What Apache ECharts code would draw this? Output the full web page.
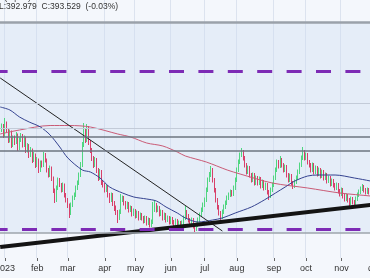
<!DOCTYPE html>
<html><head><meta charset="utf-8">
<script src="https://cdn.jsdelivr.net/npm/echarts/dist/echarts.min.js"></script>
<style>html,body{margin:0;padding:0;background:#f4f7fc;overflow:hidden}#c{width:370px;height:278px}</style>
</head><body><div id="c"></div><script>
// ---- categories (trading days) ----
const startDay = '2022-12-28', endDay = '2023-12-01';
const holidays = ['2023-01-02','2023-01-16','2023-02-20','2023-04-07','2023-05-29','2023-06-19','2023-07-04','2023-09-04','2023-11-23'];
const monthLabels = ['2023','feb','mar','apr','may','jun','jul','aug','sep','oct','nov','dec'];
const days = [];
for (let t = Date.parse(startDay + 'T00:00:00Z'); t <= Date.parse(endDay + 'T00:00:00Z'); t += 86400000) {
  const d = new Date(t), wd = d.getUTCDay(), s = d.toISOString().slice(0, 10);
  if (wd === 0 || wd === 6 || holidays.includes(s)) continue;
  days.push(s);
}
// ---- daily candles [open, close, low, high] from 2022-12-28 ----
const candles = [
[406.4,406.0,405.5,406.9],[406.0,406.8,405.6,407.3],[406.8,405.0,404.4,407.2],
[405.0,407.2,404.6,408.4],[407.2,406.0,405.5,407.7],[406.0,404.0,403.4,406.4],[404.0,405.6,403.5,406.1],[405.6,403.0,402.4,405.9],
[403.0,404.4,402.6,404.9],[404.4,403.6,403.0,404.9],[403.6,405.0,403.2,405.6],[405.0,402.4,401.8,405.3],[402.4,404.0,402.0,404.5],
[404.0,404.8,403.6,405.4],[404.8,403.0,402.5,405.2],[403.0,404.4,402.6,404.9],[404.4,402.0,401.4,404.7],[402.0,402.8,401.5,403.4],
[402.8,401.0,400.4,403.2],[401.0,402.0,400.6,402.6],[402.0,400.0,399.4,402.3],[400.0,401.0,399.6,401.6],[401.0,399.0,398.4,401.3],
[399.0,400.0,398.6,400.6],[400.0,398.0,397.4,400.3],[398.0,399.4,397.6,399.9],[399.4,399.0,398.5,399.9],[399.0,401.0,398.6,401.6],
[401.0,400.0,399.5,401.4],[400.0,398.0,397.5,400.3],[398.0,397.0,396.5,398.4],[397.0,398.4,396.6,398.9],[398.4,396.4,395.8,398.7],
[396.4,394.0,393.4,396.7],[394.0,392.0,391.4,394.3],[392.0,394.4,391.6,394.9],[394.4,396.0,394.0,396.5],[396.0,395.0,394.6,396.4],
[395.0,394.0,393.5,395.4],[394.0,395.0,393.6,395.5],[395.0,393.0,392.5,395.3],[393.0,392.0,391.5,393.4],[392.0,391.0,390.4,392.4],
[391.0,389.4,388.4,391.3],[389.4,391.0,389.0,391.5],[391.0,392.4,390.6,392.9],[392.4,393.0,392.0,393.5],[393.0,394.4,392.6,394.9],
[394.4,395.4,394.0,395.9],[395.4,397.0,395.0,397.5],[397.0,399.0,396.6,399.6],[399.0,403.0,398.6,403.6],[403.0,405.6,402.6,407.4],
[405.6,404.0,403.4,406.2],[404.0,406.4,403.6,407.2],[406.4,403.6,403.0,406.8],[403.6,402.0,401.4,404.0],[402.0,400.4,399.8,402.4],
[400.4,399.0,398.4,400.8],[399.0,400.0,398.6,400.6],[400.0,398.0,397.4,400.4],[398.0,396.4,395.8,398.4],[396.4,397.6,396.0,398.2],
[397.6,395.6,395.0,398.0],[395.6,395.0,394.5,396.0],[395.0,394.0,393.5,395.4],[394.0,394.6,393.6,395.1],[394.6,393.0,392.5,395.0],
[393.0,392.0,391.4,393.4],[392.0,393.0,391.6,393.5],[393.0,391.4,390.8,393.4],[391.4,390.4,389.8,391.8],[390.4,389.6,389.0,390.9],
[389.6,388.4,387.4,390.0],[388.4,389.6,388.0,390.1],[389.6,392.0,389.2,393.2],[392.0,392.4,391.6,392.9],[392.4,391.4,390.9,392.8],
[391.4,390.6,390.1,391.8],[390.6,391.2,390.2,391.7],[391.2,390.0,389.5,391.6],[390.0,390.4,389.6,390.9],[390.4,389.2,388.7,390.8],
[389.2,389.8,388.8,390.3],[389.8,388.8,388.3,390.2],[388.8,389.4,388.4,389.9],[389.4,388.4,387.9,389.8],[388.4,389.0,388.0,389.5],
[389.0,388.4,387.9,389.4],[388.4,387.8,387.3,388.8],[387.8,388.4,387.4,388.9],[388.4,387.4,386.9,388.8],[387.4,388.0,387.0,388.5],
[388.0,387.0,386.5,388.4],[387.0,387.6,386.6,388.1],[387.6,390.0,387.2,391.6],[390.0,391.0,389.6,392.0],[391.0,390.0,389.5,391.4],
[390.0,390.4,389.6,390.9],[390.4,389.2,388.7,390.8],[389.2,389.6,388.8,390.1],[389.6,388.4,387.9,390.0],[388.4,389.0,388.0,389.5],
[389.0,388.0,387.5,389.4],[388.0,388.4,387.6,388.9],[388.4,387.6,387.1,388.8],[387.6,388.2,387.2,388.7],[388.2,387.6,387.1,388.6],
[387.6,387.0,386.5,388.0],[387.0,387.8,386.6,388.3],[387.8,386.8,386.3,388.2],[386.8,387.4,386.4,387.9],[387.4,386.6,385.8,387.8],
[386.6,387.4,386.2,387.9],[387.4,388.4,387.0,388.9],[388.4,389.6,388.0,390.8],[389.6,388.8,388.3,390.0],[388.8,388.0,387.5,389.2],
[388.0,387.2,386.7,388.4],[387.2,388.0,386.8,388.5],[388.0,386.8,386.3,388.4],[386.8,386.2,385.6,387.2],[386.2,387.0,385.8,387.5],
[387.0,388.0,386.6,388.5],[388.0,389.0,387.6,389.5],[389.0,390.0,388.6,390.5],[390.0,391.0,389.6,391.5],[391.0,392.0,390.6,392.5],
[392.0,394.0,391.6,394.5],[394.0,396.0,393.6,396.5],[396.0,397.0,395.6,397.6],[397.0,398.0,396.6,398.8],[398.0,396.0,395.5,398.4],
[396.0,394.0,393.5,396.4],[394.0,392.0,391.5,394.4],[392.0,390.6,390.1,392.4],[390.6,389.4,388.9,391.0],[389.4,388.6,388.0,389.8],
[388.6,389.6,388.2,390.1],[389.6,390.6,389.2,391.1],[390.6,391.4,390.2,391.9],[391.4,392.4,391.0,392.9],[392.4,393.0,392.0,393.5],
[393.0,393.6,392.6,394.1],[393.6,393.2,392.7,394.0],[393.2,394.4,392.8,394.9],[394.4,396.0,394.0,396.5],[396.0,398.0,395.6,398.5],
[398.0,399.6,397.6,400.1],[399.6,401.0,399.2,401.5],[401.0,401.6,400.6,402.4],[401.6,400.4,399.9,402.0],[400.4,399.0,398.5,400.8],
[399.0,397.6,397.1,399.4],[397.6,398.4,397.2,398.9],[398.4,397.0,396.5,398.8],[397.0,396.0,395.5,397.4],[396.0,397.0,395.6,397.5],
[397.0,395.4,394.9,397.4],[395.4,396.4,395.0,396.9],[396.4,395.4,394.9,396.8],[395.4,396.2,395.0,396.7],[396.2,394.8,394.3,396.6],
[394.8,395.6,394.4,396.1],[395.6,394.4,393.9,396.0],[394.4,395.0,394.0,395.5],[395.0,393.6,393.1,395.4],[393.6,392.8,392.0,394.0],
[392.8,394.0,392.4,394.5],[394.0,395.0,393.6,395.5],[395.0,396.4,394.6,396.9],[396.4,398.0,396.0,398.5],[398.0,399.6,397.6,400.1],
[399.6,398.8,398.3,400.0],[398.8,400.0,398.4,400.8],[400.0,399.0,398.5,400.4],[399.0,398.0,397.5,399.4],[398.0,398.6,397.6,399.1],
[398.6,397.0,396.5,399.0],[397.0,396.0,395.5,397.4],[396.0,396.8,395.6,397.3],[396.8,395.4,394.9,397.2],[395.4,394.8,394.2,395.8],
[394.8,395.6,394.4,396.1],[395.6,396.4,395.2,396.9],[396.4,397.6,396.0,398.1],[397.6,399.0,397.2,399.5],[399.0,400.4,398.6,400.9],
[400.4,401.6,400.0,402.6],[401.6,400.4,399.9,402.0],[400.4,401.0,400.0,401.5],[401.0,399.6,399.1,401.4],[399.6,399.0,398.5,400.0],
[399.0,398.0,397.5,399.4],[398.0,399.0,397.6,399.5],[399.0,397.6,397.1,399.4],[397.6,398.4,397.2,398.9],[398.4,397.2,396.7,398.8],
[397.2,398.0,396.8,398.5],[398.0,396.8,396.3,398.4],[396.8,397.6,396.4,398.1],[397.6,396.4,395.9,398.0],[396.4,397.0,396.0,397.5],
[397.0,395.8,395.3,397.4],[395.8,396.4,395.4,396.9],[396.4,395.2,394.7,396.8],[395.2,395.8,394.8,396.3],[395.8,395.0,394.5,396.2],
[395.0,394.4,393.9,395.4],[394.4,395.0,394.0,395.5],[395.0,393.8,393.3,395.4],[393.8,393.2,392.7,394.2],[393.2,394.0,392.8,394.5],
[394.0,392.8,392.3,394.4],[392.8,392.2,391.7,393.2],[392.2,392.8,391.8,393.3],[392.8,392.0,391.5,393.2],[392.0,391.4,390.8,392.4],
[391.4,392.2,391.0,392.7],[392.2,391.6,391.1,392.6],[391.6,391.2,390.6,392.0],[391.2,392.2,390.8,392.7],[392.2,393.0,391.8,393.5],
[393.0,393.6,392.6,394.1],[393.6,394.2,393.2,394.7],[394.2,394.6,393.8,395.2],[394.6,394.0,393.5,395.0],[394.0,393.6,393.1,394.4],
[393.6,394.0,393.2,394.5],[394.0,393.6,393.1,394.4],[393.6,393.529,392.979,394.0]
];
// ---- moving averages (read at sample dates) ----
const ma50 = [['2022-12-28',410.6],['2023-01-06',410.0],['2023-01-17',408.6],['2023-01-25',407.6],['2023-02-03',406.6],['2023-02-13',405.0],['2023-02-22',402.6],['2023-03-01',400.4],['2023-03-14',398.0],['2023-03-21',397.6],['2023-03-29',396.4],['2023-04-06',394.6],['2023-04-19',393.4],['2023-04-28',392.6],['2023-05-10',392.2],['2023-05-18',391.8],['2023-05-26',390.6],['2023-06-07',389.4],['2023-06-14',388.4],['2023-06-27',387.6],['2023-07-11',388.0],['2023-07-19',388.4],['2023-07-31',389.4],['2023-08-14',390.6],['2023-08-24',392.0],['2023-09-05',393.4],['2023-09-13',394.6],['2023-09-21',395.8],['2023-10-03',396.8],['2023-10-11',397.0],['2023-10-26',397.0],['2023-11-13',396.4],['2023-11-28',395.8],['2023-12-01',395.6]];
const ma200 = [['2022-12-28',405.2],['2023-01-17',406.0],['2023-02-13',406.9],['2023-03-02',406.9],['2023-03-21',406.6],['2023-04-14',405.2],['2023-04-26',404.6],['2023-05-10',403.4],['2023-05-24',402.8],['2023-06-07',401.6],['2023-06-14',400.8],['2023-07-05',399.6],['2023-07-24',398.0],['2023-08-03',397.2],['2023-08-31',395.4],['2023-10-03',394.4],['2023-10-31',393.4],['2023-11-28',392.8],['2023-12-01',392.7]];
// ---- drawn trendlines ----
const supportLine = [['2022-12-28',382.6],['2023-12-01',391.1]];
const downTrend = [['2022-12-28',416.4],['2023-07-19',385.8]];
// ---- horizontal levels ----
const bandTop = 427.6, bandBottom = 385.4;
const purpleLevels = [417.8, 386.2];
const darkLevels = [404.6, 401.8];
const faintLevels = [411.4, 406.4];

const monthStart = new Set();
days.forEach((d, i) => { if (d >= '2023' && (i === 0 || d.slice(0,7) !== days[i-1].slice(0,7))) monthStart.add(i); });
const isMonth = (i) => monthStart.has(i);
const candleData = days.map((d, i) => candles[i] || '-');

const purple = '#7d2bb5';
const mk = [];
mk.push({yAxis: bandTop, lineStyle: {color: '#9aa1aa', width: 2.5, type: 'solid'}});
mk.push({yAxis: bandBottom, lineStyle: {color: '#9ea4ad', width: 1.5, type: 'solid'}});
faintLevels.forEach(v => mk.push({yAxis: v, lineStyle: {color: '#c3cbd8', width: 1, type: 'solid'}}));
darkLevels.forEach(v => mk.push({yAxis: v, lineStyle: {color: '#6c7480', width: 1.5, type: 'solid'}}));
purpleLevels.forEach(v => mk.push({yAxis: v, lineStyle: {color: purple, width: 3, type: [15, 14.4], dashOffset: 6.8, cap: 'butt'}}));

const chart = echarts.init(document.getElementById('c'), null, {renderer: 'canvas'});
chart.setOption({
  animation: false,
  backgroundColor: '#f4f7fc',
  grid: {left: -0.6, width: 234 * 1.61, top: 0, height: 258, containLabel: false, outerBoundsMode: 'none'},
  xAxis: {
    type: 'category', data: days, boundaryGap: true,
    axisLine: {show: false},
    axisTick: {show: true, alignWithLabel: true, interval: isMonth, length: 3, lineStyle: {color: '#666'}},
    axisLabel: {interval: isMonth, margin: 6, fontSize: 9, color: '#333', fontFamily: 'Liberation Sans',
      formatter: v => monthLabels[+v.slice(5,7) - 1]},
    splitLine: {show: true, interval: isMonth, lineStyle: {color: 'rgba(175,190,215,0.35)', width: 1}}
  },
  yAxis: {type: 'value', min: 380.4, max: 432, show: false, splitLine: {show: false}},
  series: [
    {type: 'candlestick', data: candleData, barWidth: 1.2, z: 2,
      itemStyle: {color: '#4fd680', color0: '#d8406a', borderColor: '#4fd680', borderColor0: '#d8406a', borderWidth: 1},
      markArea: {silent: true, itemStyle: {color: 'rgba(205,220,243,0.38)'}, data: [[{yAxis: bandTop}, {yAxis: bandBottom}]]},
      markLine: {silent: true, symbol: ['none','none'], label: {show: false}, animation: false, data: mk}
    },
    {type: 'line', data: ma200, smooth: 0.3, symbol: 'none', z: 3, lineStyle: {color: '#c95b76', width: 1}},
    {type: 'line', data: ma50, smooth: 0.3, symbol: 'none', z: 3, lineStyle: {color: '#34428f', width: 1}},
    {type: 'line', data: downTrend, symbol: 'none', z: 4, lineStyle: {color: '#222', width: 1}},
    {type: 'line', data: supportLine, symbol: 'none', z: 4, lineStyle: {color: '#141414', width: 4}}
  ],
  graphic: [
    {type: 'text', x: 0, y: -6, z: 10, style: {text: '2(report)', font: '8px "Liberation Sans"', fill: '#333'}},
    {type: 'text', x: -1, y: 2, z: 10, style: {text: 'L:392.979  C:393.529  (-0.03%)', font: '8.5px "Liberation Sans"', fill: '#333'}}
  ]
});
</script></body></html>
